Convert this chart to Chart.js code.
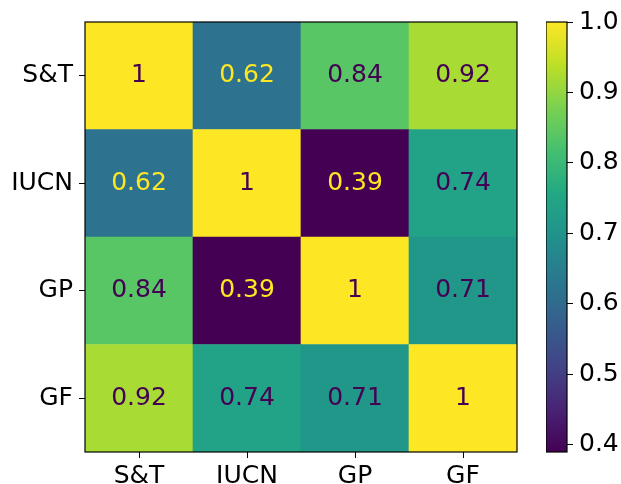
<!DOCTYPE html>
<html>
<head>
<meta charset="utf-8">
<script src="https://cdn.jsdelivr.net/npm/chart.js@4"></script>
<style>
  html, body { margin: 0; padding: 0; background: #fff; }
  #wrap { position: relative; width: 621px; height: 484px; }
  #heat { position: absolute; left: 0; top: 0; }
  #bar { position: absolute; left: 546px; top: 0; }
</style>
</head>
<body>
<div id="wrap">
  <canvas id="heat" width="621" height="484"></canvas>
  <canvas id="bar" width="75" height="484"></canvas>
</div>
<script>
// Category names (columns left to right, rows top to bottom)
const labels = ['S&T', 'IUCN', 'GP', 'GF'];

// Correlation matrix, one array per row
const rowST   = [1, 0.62, 0.84, 0.92];
const rowIUCN = [0.62, 1, 0.39, 0.74];
const rowGP   = [0.84, 0.39, 1, 0.71];
const rowGF   = [0.92, 0.74, 0.71, 1];
const rows = [rowST, rowIUCN, rowGP, rowGF];

// Colorbar ticks
const colorbarTicks = [0.4, 0.5, 0.6, 0.7, 0.8, 0.9, 1.0];

const vmin = Math.min(...rows.flat());
const vmax = Math.max(...rows.flat());

// Viridis colormap stops
const viridis = ['#440154', '#482475', '#414487', '#355f8d', '#2a788e',
                 '#21918c', '#22a884', '#44bf70', '#7ad151', '#bddf26', '#fde725'];

function hexToRgb(h) {
  return [parseInt(h.slice(1, 3), 16), parseInt(h.slice(3, 5), 16), parseInt(h.slice(5, 7), 16)];
}
function cmap(t) {
  t = Math.max(0, Math.min(1, t));
  const p = t * (viridis.length - 1);
  const i = Math.min(Math.floor(p), viridis.length - 2);
  const f = p - i;
  const a = hexToRgb(viridis[i]), b = hexToRgb(viridis[i + 1]);
  const c = a.map((v, k) => Math.round(v + (b[k] - v) * f));
  return `rgb(${c[0]},${c[1]},${c[2]})`;
}
const norm = v => (vmax - vmin) ? (v - vmin) / (vmax - vmin) : 0;

const FONT = "'DejaVu Sans', sans-serif";
const FS = 25;
Chart.defaults.font.family = FONT;
Chart.defaults.color = '#000';

// Stacked bars: dataset 0 is the bottom row (GF), dataset 3 the top row (S&T)
const datasets = rows.slice().reverse().map(row => ({
  data: row.map(() => 1),
  values: row,
  backgroundColor: row.map(v => cmap(norm(v))),
  borderWidth: 0,
  barPercentage: 1,
  categoryPercentage: 1,
  stack: 's'
}));

const textPlugin = {
  id: 'cellText',
  afterDatasetsDraw(chart) {
    const ctx = chart.ctx;
    const thresh = (vmax + vmin) / 2;
    ctx.save();
    ctx.font = `${FS}px ${FONT}`;
    ctx.textAlign = 'center';
    ctx.textBaseline = 'middle';
    chart.data.datasets.forEach((ds, di) => {
      const meta = chart.getDatasetMeta(di);
      meta.data.forEach((el, i) => {
        const v = ds.values[i];
        ctx.fillStyle = v > thresh ? '#440154' : '#fde725';
        const txt = Number.isInteger(v) ? String(v) : v.toFixed(2);
        ctx.fillText(txt, el.x, (el.y + el.base) / 2);
      });
    });
    ctx.restore();
  }
};

const framePlugin = {
  id: 'frame',
  afterDraw(chart) {
    const a = chart.chartArea, ctx = chart.ctx;
    ctx.save();
    ctx.strokeStyle = '#000';
    ctx.lineWidth = 1.2;
    ctx.strokeRect(a.left, a.top, a.right - a.left, a.bottom - a.top);
    ctx.restore();
  }
};

new Chart(document.getElementById('heat'), {
  type: 'bar',
  data: { labels, datasets },
  options: {
    responsive: false,
    animation: false,
    layout: { padding: { left: 0, top: 22, right: 104, bottom: 0 } },
    plugins: { legend: { display: false }, tooltip: { enabled: false } },
    scales: {
      x: {
        stacked: true,
        grid: { display: true, offset: false, drawOnChartArea: false, drawTicks: true, tickLength: 6, color: '#000', lineWidth: 1 },
        border: { display: false },
        ticks: { font: { size: FS }, padding: 3, color: '#000', maxRotation: 0 },
        afterFit(s) { s.height = 32; }
      },
      y: {
        stacked: true,
        min: 0, max: 4,
        afterBuildTicks(s) { s.ticks = [3.5, 2.5, 1.5, 0.5].map(v => ({ value: v })); },
        grid: { display: true, drawOnChartArea: false, drawTicks: true, tickLength: 6, color: '#000', lineWidth: 1 },
        border: { display: false },
        ticks: {
          font: { size: FS }, padding: 6, color: '#000',
          callback: v => labels[3 - Math.floor(v)]
        },
        afterFit(s) { s.width = 85; }
      }
    }
  },
  plugins: [textPlugin, framePlugin]
});

// Colorbar: one floating bar spanning the value range, filled with the colormap
new Chart(document.getElementById('bar'), {
  type: 'bar',
  data: {
    labels: [''],
    datasets: [{
      data: [[vmin, vmax]],
      borderWidth: 0,
      barPercentage: 1,
      categoryPercentage: 1,
      backgroundColor(c) {
        const a = c.chart.chartArea;
        if (!a) return cmap(0.5);
        const g = c.chart.ctx.createLinearGradient(0, a.bottom, 0, a.top);
        for (let i = 0; i <= 50; i++) g.addColorStop(i / 50, cmap(i / 50));
        return g;
      }
    }]
  },
  options: {
    responsive: false,
    animation: false,
    layout: { padding: { left: 0, top: 22, right: 0, bottom: 32 } },
    plugins: { legend: { display: false }, tooltip: { enabled: false } },
    scales: {
      x: { display: false },
      y: {
        position: 'right',
        min: vmin, max: vmax,
        afterBuildTicks(s) { s.ticks = colorbarTicks.map(v => ({ value: v })); },
        grid: { display: true, drawOnChartArea: false, drawTicks: true, tickLength: 6, color: '#000', lineWidth: 1 },
        border: { display: false },
        ticks: { font: { size: FS }, padding: 6, color: '#000', callback: v => v.toFixed(1) },
        afterFit(s) { s.width = 54; }
      }
    }
  },
  plugins: [framePlugin]
});
</script>
</body>
</html>
